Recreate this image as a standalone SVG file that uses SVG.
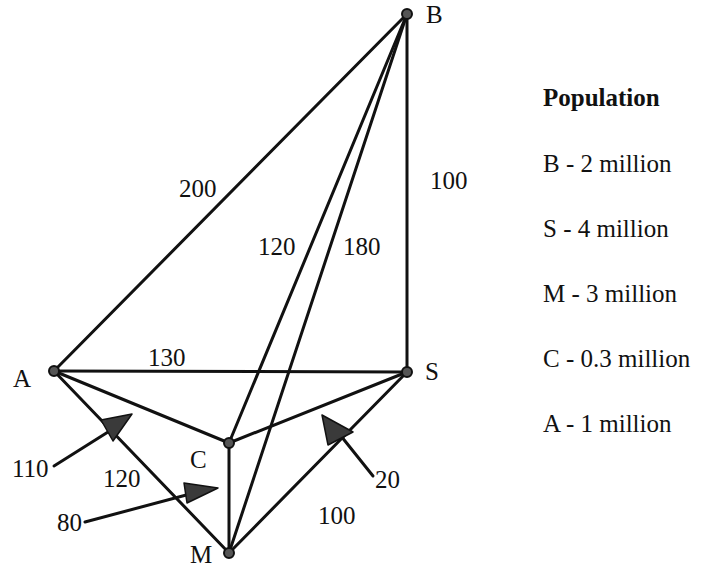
<svg xmlns="http://www.w3.org/2000/svg" width="705" height="567" viewBox="0 0 705 567">
<style>
text{font-family:'Liberation Serif','Tinos','DejaVu Serif','Noto Serif',serif;font-size:25px;fill:#111}
.e{stroke:#111;stroke-width:3;fill:none;stroke-linecap:round}
.dot{fill:#555;stroke:#111;stroke-width:2}
.tri{fill:#3a3a3a;stroke:#111;stroke-width:1.5;stroke-linejoin:round}
.b{font-weight:bold}
</style>
<rect width="705" height="567" fill="#fff"/>
<g id="connectors">
<line class="e" x1="54" y1="371" x2="407" y2="14"/>
<line class="e" x1="407" y1="14" x2="407" y2="372"/>
<line class="e" x1="54" y1="371" x2="407" y2="372"/>
<line class="e" x1="54" y1="371" x2="229" y2="443"/>
<line class="e" x1="229" y1="443" x2="407" y2="372"/>
<line class="e" x1="229" y1="443" x2="229" y2="553"/>
<line class="e" x1="229" y1="443" x2="407" y2="14"/>
<line class="e" x1="229" y1="553" x2="407" y2="14"/>
<line class="e" x1="54" y1="371" x2="229" y2="553"/>
<line class="e" x1="229" y1="553" x2="407" y2="372"/>
<text x="179" y="197">200</text>
<text x="430" y="189">100</text>
<text x="258" y="255">120</text>
<text x="343" y="255">180</text>
<text x="148" y="366">130</text>
<text x="103" y="487">120</text>
<text x="318" y="524">100</text>
</g>
<g id="flows">
<line class="e" x1="54" y1="466" x2="108" y2="432"/>
<polygon class="tri" points="101,420 132,414 113,441"/>
<text x="12" y="477">110</text>
<line class="e" x1="85" y1="522" x2="190" y2="494"/>
<polygon class="tri" points="184,483 218,488 187,503"/>
<text x="57" y="531">80</text>
<line class="e" x1="373" y1="476" x2="341" y2="436"/>
<polygon class="tri" points="322,415 353,432 328,445"/>
<text x="375" y="488">20</text>
</g>
<g id="node-B"><circle class="dot" cx="407" cy="14" r="5"/><text x="426" y="23">B</text></g>
<g id="node-S"><circle class="dot" cx="407" cy="372" r="5"/><text x="425" y="380">S</text></g>
<g id="node-A"><circle class="dot" cx="54" cy="371" r="5"/><text x="13" y="387">A</text></g>
<g id="node-C"><circle class="dot" cx="229" cy="443" r="5"/><text x="190" y="468">C</text></g>
<g id="node-M"><circle class="dot" cx="229" cy="553" r="5"/><text x="190" y="563">M</text></g>
<g id="legend">
<text class="b" x="543" y="106">Population</text>
<text x="543" y="172">B - 2 million</text>
<text x="543" y="237">S - 4 million</text>
<text x="543" y="302">M - 3 million</text>
<text x="543" y="367">C - 0.3 million</text>
<text x="543" y="432">A - 1 million</text>
</g>
</svg>
